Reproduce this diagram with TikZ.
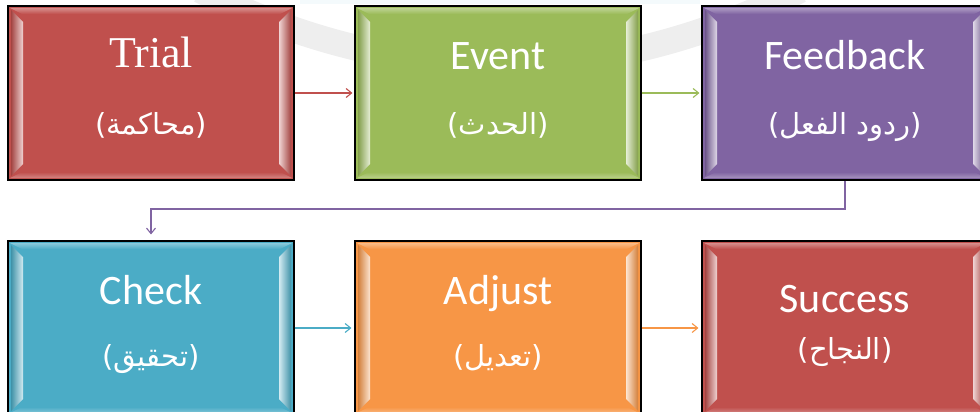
\documentclass[tikz,border=0pt]{standalone}
\usepackage{fontspec}
\setmainfont{Carlito}
\newfontfamily\titleserif{Liberation Serif}
\newfontfamily\arabicfont[Script=Arabic]{DejaVu Sans}
\TeXXeTstate=1
\usetikzlibrary{calc,shadows,arrows.meta}
\definecolor{cRed}{HTML}{C0504D}
\definecolor{cGreen}{HTML}{9BBB59}
\definecolor{cPurple}{HTML}{8064A2}
\definecolor{cTeal}{HTML}{4BACC6}
\definecolor{cOrange}{HTML}{F79646}
\tikzset{
  tile/.style={draw=black, line width=1.1pt, fill=#1, minimum width=286pt, minimum height=174pt, inner sep=0pt,
    drop shadow={shadow xshift=1.2pt, shadow yshift=-1.2pt, opacity=0.35},
    path picture={
      \coordinate (pnw) at (path picture bounding box.north west);
      \coordinate (pse) at (path picture bounding box.south east);
      \coordinate (pne) at (path picture bounding box.north east);
      \coordinate (psw) at (path picture bounding box.south west);
      \shade[top color=#1!65!white, bottom color=#1] ($(pnw)+(2pt,-2pt)$) -- ($(pne)+(-2pt,-2pt)$) -- ($(pne)+(-14pt,-8pt)$) -- ($(pnw)+(14pt,-8pt)$) -- cycle;
      \shade[top color=#1, bottom color=#1!70!white] ($(psw)+(2pt,2pt)$) -- ($(pse)+(-2pt,2pt)$) -- ($(pse)+(-14pt,8pt)$) -- ($(psw)+(14pt,8pt)$) -- cycle;
      \shade[left color=#1!85!black, right color=#1!25!white] ($(pnw)+(3pt,-4pt)$) -- ($(pnw)+(15pt,-16pt)$) -- ($(psw)+(15pt,16pt)$) -- ($(psw)+(3pt,4pt)$) -- cycle;
      \shade[left color=#1!25!white, right color=#1!85!black] ($(pne)+(-3pt,-4pt)$) -- ($(pne)+(-15pt,-16pt)$) -- ($(pse)+(-15pt,16pt)$) -- ($(pse)+(-3pt,4pt)$) -- cycle;
    }},
  ttl/.style={text=white, anchor=base, font=\fontsize{42}{44}\selectfont},
  arb/.style={text=white, anchor=base, font=\arabicfont\fontsize{29}{32}\selectfont},
  link/.style={draw=#1, line width=1.1pt, -{Straight Barb[length=5.5pt,width=9pt,line width=1.1pt]}},
}
\begin{document}
\begin{tikzpicture}[x=1pt,y=-1pt]
\useasboundingbox (0,0) rectangle (980,412);
% background swoosh
\draw[line width=26pt, gray!13] (200,-10) .. controls (400,90) and (600,90) .. (800,-10);
\fill[cTeal!6] (300,0) rectangle (700,4);

\node[tile=cRed]    (trial)    at (151,93)  {};
\node[tile=cGreen]  (event)    at (498,93)  {};
\node[tile=cPurple] (feedback) at (845,93)  {};
\node[tile=cTeal]   (check)    at (151,328) {};
\node[tile=cOrange] (adjust)   at (498,328) {};
\node[tile=cRed]    (success)  at (845,328) {};

\node[ttl, font=\titleserif\fontsize{44}{46}\selectfont] (trialT) at (151,68) {Trial};
\node[arb] (trialA) at (151,134) {\beginR(محاكمة)\endR};
\node[ttl] (eventT) at (498,70) {Event};
\node[arb] (eventA) at (498,134) {\beginR(الحدث)\endR};
\node[ttl] (feedbackT) at (845,70) {Feedback};
\node[arb] (feedbackA) at (845,134) {\beginR(ردود الفعل)\endR};
\node[ttl] (checkT) at (151,304) {Check};
\node[arb] (checkA) at (151,366) {\beginR(تحقيق)\endR};
\node[ttl] (adjustT) at (498,304) {Adjust};
\node[arb] (adjustA) at (498,366) {\beginR(تعديل)\endR};
\node[ttl] (successT) at (845,312) {Success};
\node[arb] (successA) at (845,359) {\beginR(النجاح)\endR};

\coordinate (bend) at (0,209);
\draw[link=cRed] (trial.east) -- ([xshift=-2pt]event.west);
\draw[link=cGreen] (event.east) -- ([xshift=-2pt]feedback.west);
\draw[link=cPurple] (feedback.south) -- (feedback.south |- bend) -- (check.north |- bend) -- ([yshift=6pt]check.north);
\draw[link=cTeal] (check.east) -- ([xshift=-3pt]adjust.west);
\draw[link=cOrange] (adjust.east) -- ([xshift=-3pt]success.west);
\end{tikzpicture}
\end{document}
